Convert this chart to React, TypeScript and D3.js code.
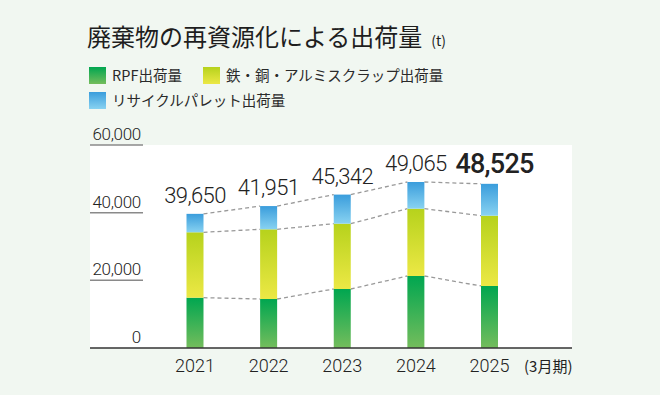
import React from 'react';
import * as d3 from 'd3';

const years = ['2021', '2022', '2023', '2024', '2025'];
const rpf = [14870, 14480, 17440, 21280, 18330];
const scrap = [19330, 20600, 19310, 19900, 20780];
const pallet = [5450, 6871, 8592, 7885, 9415];
const yTicks = [0, 20000, 40000, 60000];

const seriesKeys = ['rpf', 'scrap', 'pallet'] as const;
const legendNames = ['RPF出荷量', '鉄・銅・アルミスクラップ出荷量', 'リサイクルパレット出荷量'];
const gradStops: Record<string, [string, string]> = {
  rpf: ['#00a650', '#74bd5c'],
  scrap: ['#b6d21c', '#ece845'],
  pallet: ['#3a9ddc', '#88d2f1'],
};

const W = 660;
const H = 395;
const plot = { left: 90, right: 572, top: 145, bottom: 348 };
const numFont = 'Roboto, "DejaVu Sans", sans-serif';
const jpFont = '"Noto Sans CJK JP", "Noto Sans", sans-serif';

const rows = years.map((y, i) => ({ year: y, rpf: rpf[i], scrap: scrap[i], pallet: pallet[i] }));

const App: React.FC = () => {
  const x = d3.scalePoint<string>().domain(years).range([195, 489.5]);
  const y = d3.scaleLinear().domain([0, 60000]).range([plot.bottom, plot.top]);
  const barW = 17;
  const stacked = d3.stack<any>().keys(seriesKeys as unknown as string[])(rows);
  const fmt = d3.format(',');

  return (
    <svg width={W} height={H} style={{ position: 'absolute', left: 0, top: 0 }}>
      <defs>
        {seriesKeys.map((k) => (
          <linearGradient key={k} id={`g-${k}`} x1="0" y1="0" x2="0" y2="1">
            <stop offset="0%" stopColor={gradStops[k][0]} />
            <stop offset="100%" stopColor={gradStops[k][1]} />
          </linearGradient>
        ))}
      </defs>
      <rect width={W} height={H} fill="#f1f7f1" />
      <rect x={plot.left} y={plot.top} width={plot.right - plot.left} height={plot.bottom - plot.top} fill="#ffffff" />

      {/* title */}
      <text x={87} y={46} fontFamily={jpFont} fontSize={24} fill="#1e1e1e">
        廃棄物の再資源化による出荷量
        <tspan dx={9} fontSize={14}>(t)</tspan>
      </text>

      {/* legend */}
      {legendNames.map((name, i) => {
        const lx = i === 1 ? 203 : 89;
        const ly = i === 2 ? 92 : 67;
        return (
          <g key={name}>
            <rect x={lx} y={ly} width={17} height={17} fill={`url(#g-${seriesKeys[i]})`} />
            <text x={lx + 23} y={ly + 14} fontFamily={jpFont} fontSize={14.5} fill="#2a2a2a">
              {name}
            </text>
          </g>
        );
      })}

      {/* y ticks */}
      {yTicks.map((t) => (
        <g key={t}>
          {t > 0 && <line x1={plot.left} x2={143} y1={y(t)} y2={y(t)} stroke="#8a8a8a" strokeWidth={1.5} />}
          <text x={141} y={y(t) - 5} textAnchor="end" fontFamily={numFont} fontSize={17} fontWeight={300} letterSpacing={-0.3} fill="#222">
            {fmt(t)}
          </text>
        </g>
      ))}

      {/* dashed connectors */}
      {stacked.map((s) =>
        s.slice(0, -1).map((d, i) => (
          <line
            key={`${s.key}-${i}`}
            x1={x(years[i])! + barW / 2}
            y1={y(d[1])}
            x2={x(years[i + 1])! - barW / 2}
            y2={y(s[i + 1][1])}
            stroke="#999"
            strokeWidth={1.3}
            strokeDasharray="4,3"
          />
        ))
      )}

      {/* bars */}
      {stacked.map((s) =>
        s.map((d, i) => (
          <rect
            key={`${s.key}-${years[i]}`}
            x={x(years[i])! - barW / 2}
            y={y(d[1])}
            width={barW}
            height={y(d[0]) - y(d[1])}
            fill={`url(#g-${s.key})`}
          />
        ))
      )}

      {/* totals */}
      {rows.map((r, i) => {
        const total = r.rpf + r.scrap + r.pallet;
        const last = i === rows.length - 1;
        return (
          <text
            key={r.year}
            x={x(r.year)! + (last ? 5 : 0)}
            y={y(total) - 11}
            textAnchor="middle"
            fontFamily={numFont}
            fontSize={last ? 27 : 22}
            fontWeight={last ? 500 : 300}
            letterSpacing={last ? -0.8 : -0.6}
            fill="#222"
          >
            {fmt(total)}
          </text>
        );
      })}

      {/* baseline */}
      <line x1={plot.left} x2={plot.right} y1={plot.bottom} y2={plot.bottom} stroke="#333" strokeWidth={1.5} />

      {/* x labels */}
      {years.map((yr) => (
        <text key={yr} x={x(yr)} y={372} textAnchor="middle" fontFamily={numFont} fontSize={18} fontWeight={300} fill="#222">
          {yr}
        </text>
      ))}
      <text x={524} y={372} fontFamily={jpFont} fontSize={15} fill="#222">
        (3月期)
      </text>
    </svg>
  );
};

export default App;
